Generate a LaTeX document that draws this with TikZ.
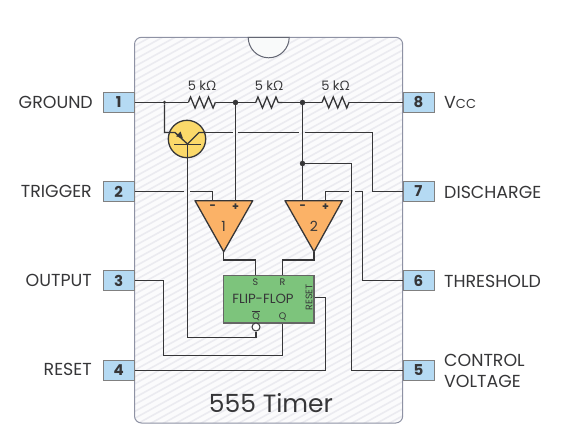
\documentclass[tikz,border=0pt]{standalone}
\usepackage{fontspec}
\setmainfont{Poppins}
\newfontfamily\ohmfont{Open Sans}
\usetikzlibrary{positioning,decorations.pathmorphing}
\definecolor{inkgray}{HTML}{363638}
\definecolor{pinblue}{HTML}{B5DAF3}
\definecolor{ampfill}{HTML}{FBB267}
\definecolor{ffgreen}{HTML}{7DC47C}
\definecolor{bjtyellow}{HTML}{FBD96A}
\definecolor{chipedge}{HTML}{8E92A4}
\definecolor{hatchgray}{HTML}{EBEBF0}
\definecolor{chipbg}{HTML}{FBFBFC}
\tikzset{
  wire/.style={draw=inkgray, line width=1.3pt},
  pin/.style={draw=gray, line width=1pt, fill=pinblue, minimum width=31pt, minimum height=19.5pt, inner sep=0pt, text=inkgray, font=\fontsize{15}{17}\selectfont\bfseries},
  lbl/.style={text=inkgray, inner sep=0pt, font=\fontsize{17.4}{21}\selectfont},
  junc/.style={circle, fill=inkgray, minimum size=5.5pt, inner sep=0pt},
  amp/.style={draw=inkgray, line width=1.3pt, fill=ampfill, line join=round},
  tiny label/.style={text=inkgray, inner sep=0pt, font=\fontsize{9.5}{10}\selectfont}
}
\begin{document}
\begin{tikzpicture}[x=1pt, y=-1pt]
\useasboundingbox (0,0) rectangle (571,441);
% chip body
\begin{scope}
\clip[rounded corners=7pt] (134.5,37.3) rectangle (402.7,423);
\fill[chipbg] (134.5,37.3) rectangle (402.7,423);
\foreach \k in {0,...,95}
  \draw[hatchgray, line width=1.6pt] (120,40+6.9*\k) -- (420,40+6.9*\k-165);
\end{scope}
\node[draw=chipedge, line width=1pt, rounded corners=7pt, minimum width=268.2pt, minimum height=385.7pt, inner sep=0pt] (chip) at (268.6,230.15) {};
\draw[draw=chipedge!70!black, line width=1pt, fill=white!95!chipedge] (248.2,37.3) arc[start angle=180, end angle=0, radius=20.5] -- cycle;

% pins
\node[pin] (p1) at (118.7,102.5) {1};
\node[pin] (p2) at (118.7,191.5) {2};
\node[pin] (p3) at (118.7,280.5) {3};
\node[pin] (p4) at (118.7,370.5) {4};
\node[pin] (p8) at (418.5,102.5) {8};
\node[pin] (p7) at (418.5,191.5) {7};
\node[pin] (p6) at (418.5,280.5) {6};
\node[pin] (p5) at (418.5,370.5) {5};

\node[lbl, anchor=east] (l1) at (93,102) {GROUND};
\node[lbl, anchor=east] (l2) at (92,191) {TRIGGER};
\node[lbl, anchor=east] (l3) at (92,280) {OUTPUT};
\node[lbl, anchor=east] (l4) at (92,369) {RESET};
\node[lbl, anchor=west] (l8) at (444,102) {V{\fontsize{13}{14}\selectfont CC}};
\node[lbl, anchor=west] (l7) at (444,192) {DISCHARGE};
\node[lbl, anchor=west] (l6) at (444,281) {THRESHOLD};
\node[lbl, anchor=west, align=left] (l5) at (444,371) {CONTROL\\VOLTAGE};

% top rail
\node[junc, minimum size=3.5pt] (j1) at (164.5,102.5) {};
\node[junc] (j2) at (235.5,102.5) {};
\node[junc] (j3) at (302.5,102.5) {};
\node[junc] (j4) at (302.5,163.5) {};
\coordinate (r1a) at (188.3,102.5);
\coordinate (r1b) at (215.7,102.5);
\coordinate (r2a) at (255.7,102.5);
\coordinate (r2b) at (282.3,102.5);
\coordinate (r3a) at (322,102.5);
\coordinate (r3b) at (349.3,102.5);
\draw[wire] (p1.east) -- (j1) -- (r1a);
\draw[wire] (r1b) -- (j2) -- (r2a);
\draw[wire] (r2b) -- (j3) -- (r3a);
\draw[wire] (r3b) -- (p8.west);
\foreach \ra/\rb in {r1a/r1b, r2a/r2b, r3a/r3b}
  \draw[wire, decorate, decoration={zigzag, amplitude=5.5pt, segment length=9pt}] (\ra) -- (\rb);
\node[lbl, font=\fontsize{13}{15}\selectfont] (r1) at (202,86) {5 k{\ohmfont Ω}};
\node[lbl, font=\fontsize{13}{15}\selectfont] (r2) at (269,86) {5 k{\ohmfont Ω}};
\node[lbl, font=\fontsize{13}{15}\selectfont] (r3) at (335.5,86) {5 k{\ohmfont Ω}};

% comparators
\node[inner sep=0pt] (a1m) at (212.5,200.7) {};
\node[inner sep=0pt] (a1p) at (235.5,200.7) {};
\node[inner sep=0pt] (a2m) at (302.5,200.7) {};
\node[inner sep=0pt] (a2p) at (325.5,200.7) {};
\coordinate (a1t) at (223.7,251.7);
\coordinate (a2t) at (314,251.7);
\draw[amp] (195,200.7) -- (252.7,200.7) -- (a1t) -- cycle;
\draw[amp] (285,200.7) -- (342.3,200.7) -- (a2t) -- cycle;
\node[lbl, font=\fontsize{11}{12}\selectfont\bfseries] (m1) at (212.5,207.5) {−};
\node[lbl, font=\fontsize{11}{12}\selectfont\bfseries] (q1) at (235.5,207.5) {+};
\node[lbl, font=\fontsize{11}{12}\selectfont\bfseries] (m2) at (302.5,207.5) {−};
\node[lbl, font=\fontsize{11}{12}\selectfont\bfseries] (q2) at (325.5,207.5) {+};
\node[lbl, font=\fontsize{14}{16}\selectfont] (n1) at (223.7,226) {1};
\node[lbl, font=\fontsize{14}{16}\selectfont] (n2) at (314,226) {2};

% flip-flop
\node[draw=gray!80!black, line width=1.3pt, fill=ffgreen, minimum width=90.3pt, minimum height=47.3pt, inner sep=0pt] (ff) at (268.85,299.35) {};
\node[lbl, font=\fontsize{13.3}{15}\selectfont] (fft) at (263,299) {FLIP-FLOP};
\node[tiny label] (ffs) at (255.5,282) {S};
\node[tiny label] (ffr) at (282.5,282) {R};
\node[tiny label] (ffq) at (282.5,316.5) {Q};
\node[tiny label] (ffn) at (256,316.5) {Q};
\draw[inkgray, line width=0.8pt] (ffn.north west) ++(0,-1) -- ([yshift=1pt]ffn.north east);
\node[tiny label, rotate=90] (ffc) at (309,297.5) {RESET};
\node[circle, draw=inkgray, line width=1pt, fill=white, minimum size=8pt, inner sep=0pt] (bub) at (256,327) {};

% transistor
\node[circle, draw=inkgray, line width=1.3pt, fill=bjtyellow, minimum size=37.4pt, inner sep=0pt] (bjt) at (187,139) {};
\coordinate (bb) at (187.5,144);
\draw[wire] (174.3,144.5) -- (200.7,144.5);
\draw[wire] (j1) |- (175,132.5) -- (bb);
\draw[wire] (bb) -- (199,132.5) -- (bjt.east |- 0,132.5);
\fill[inkgray] (183,138.5) -- (176.2,136.3) -- (180.5,131.5) -- cycle;

% wires
\coordinate (c1) at (232.7,132.5);
\coordinate (c2) at (237.9,132.5);
\coordinate (c3) at (299.3,132.5);
\coordinate (c4) at (304.7,132.5);
\coordinate (c5) at (372.5,132.5);
\draw[wire] (205,132.5) -- (c1);
\draw[wire] (c2) -- (c3);
\draw[wire] (c4) -- (c5) |- (p7.west);
\draw[wire] (j2) -- (a1p);
\draw[wire] (j3) -- (j4) -- (a2m);
\coordinate (t1) at (184,191.5);
\coordinate (t2) at (190,191.5);
\draw[wire] (p2.east) -- (t1);
\draw[wire] (t2) -| (a1m);
\coordinate (g1) at (325.5,191.5);
\coordinate (g2) at (348.5,191.5);
\coordinate (g3) at (355,191.5);
\coordinate (g4) at (362.5,191.5);
\draw[wire] (a2p) -- (g1) -- (g2);
\draw[wire] (g3) -- (g4) |- (p6.west);
\draw[wire] (j4) -| (351.5,370.5) -- (p5.west);
\coordinate (b1) at (187.5,337.5);
\draw[wire] (187.5,144) -- (b1) -| (bub.south);
\draw[wire] (a1t) -- (223.7,260) -| (ff.north -| ffs);
\draw[wire] (a2t) -- (314,260) -| (ff.north -| ffr);
\draw[wire] (ff.south -| ffq) |- (163.5,355.5) |- (p3.east);
\draw[wire] (ff.east |- ffc) -| (325.5,370.5) -- (p4.east);

\node[lbl, font=\fontsize{25}{29}\selectfont] (ttl) at (271,403) {555 Timer};
\end{tikzpicture}
\end{document}
